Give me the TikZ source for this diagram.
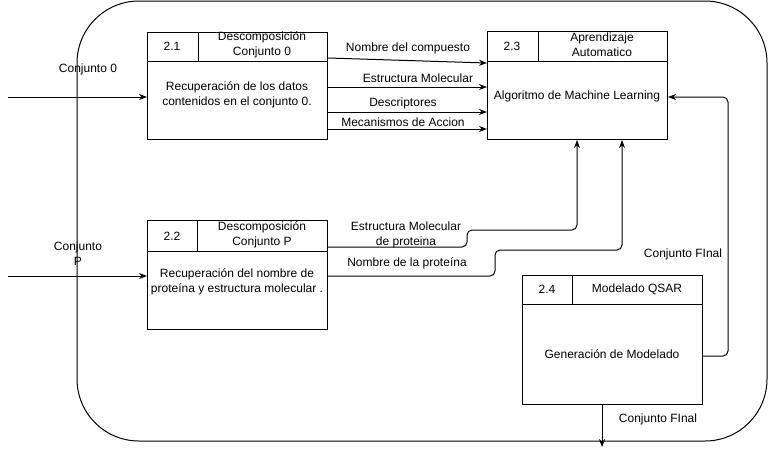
\documentclass[tikz,border=0pt]{standalone}
\usepackage{fontspec}
\setmainfont{Liberation Sans}
\usetikzlibrary{arrows.meta}

\begin{document}
\begin{tikzpicture}[
    x=1pt, y=-1pt,
    line width=1pt,
    every node/.style={inner sep=1pt, font=\fontsize{12pt}{15pt}\selectfont, align=center},
    proc/.style={draw, anchor=north west, minimum width=180pt},
    flow/.style={-{Stealth[length=8pt,width=6pt]}}
]
\useasboundingbox (0,0) rectangle (768,459);

% Outer border
\draw[rounded corners=62pt] (77,1) rectangle (767,441);

% Process boxes
\node[proc, minimum height=107pt] (b21) at (147,32) {};
\node[proc, minimum height=108pt] (b23) at (487,31) {};
\node[proc, minimum height=109pt] (b22) at (147,220) {};
\node[proc, minimum height=129pt] (b24) at (522,275) {};

% Header rows
\draw (b21.west |- 0,61) -- (b21.east |- 0,61);
\draw (198,32) -- (198,61);
\draw (b23.west |- 0,61) -- (b23.east |- 0,61);
\draw (538,31) -- (538,61);
\draw (b22.west |- 0,251) -- (b22.east |- 0,251);
\draw (197,220) -- (197,251);
\draw (b24.west |- 0,304) -- (b24.east |- 0,304);
\draw (572,275) -- (572,304);

% Header texts
\node (n21) at (172,46) {2.1};
\node (t21) at (262,45) {Descomposición\\Conjunto 0};
\node (n23) at (512,46) {2.3};
\node (t23) at (602,45) {Aprendizaje\\Automatico};
\node (n22) at (172,236) {2.2};
\node (t22) at (262,235) {Descomposición\\Conjunto P};
\node (n24) at (547,289) {2.4};
\node (t24) at (637,289) {Modelado QSAR};

% Body texts
\node (d21) at (237,95) {Recuperación de los datos\\contenidos en el conjunto 0.};
\node (d23) at (577,96) {Algoritmo de Machine Learning};
\node (d22) at (237,282) {Recuperación del nombre de\\proteína y estructura molecular .};
\node (d24) at (612,354) {Generación de Modelado};

% Inputs
\coordinate (in0) at (8,97);
\coordinate (inP) at (8,276);
\draw[flow] (in0) -- (in0 -| b21.west);
\draw[flow] (inP) -- (inP -| b22.west);
\node (l0) at (88,69) {Conjunto 0};
\node (lP) at (78,254) {Conjunto\\P};

% Flows 2.1 -> 2.3
\draw[flow] (b21.east |- 0,58) -- (b23.west |- 0,63);
\draw[flow] (b21.east |- 0,87) -- (b23.west |- 0,87);
\draw[flow] (b21.east |- 0,112) -- (b23.west |- 0,112);
\draw[flow] (b21.east |- 0,129) -- (b23.west |- 0,129);
\node (f1) at (408,48) {Nombre del compuesto};
\node (f2) at (418,78) {Estructura Molecular};
\node (f3) at (403,103) {Descriptores};
\node (f4) at (403,122) {Mecanismos de Accion};

% Flows 2.2 -> 2.3
\draw[flow, rounded corners=5pt] (b22.east |- 0,247) -- (467,247) -- (467,230)
    -- (577,230) -- (b23.south -| 577,0);
\draw[flow, rounded corners=5pt] (b22.east |- 0,276) -- (495,276) -- (495,250)
    -- (622,250) -- (b23.south -| 622,0);
\node (f5) at (406,235) {Estructura Molecular\\de proteina};
\node (f6) at (407,263) {Nombre de la proteína};

% Flows out of 2.4
\draw[flow, rounded corners=5pt] (b24.east |- 0,356) -- (728,356) -- (728,97)
    -- (b23.east |- 0,97);
\coordinate (out) at (602,447);
\draw[flow] (b24.south -| out) -- (out);
\node (f7) at (683,254) {Conjunto FInal};
\node (f8) at (658,419) {Conjunto FInal};
\end{tikzpicture}
\end{document}
